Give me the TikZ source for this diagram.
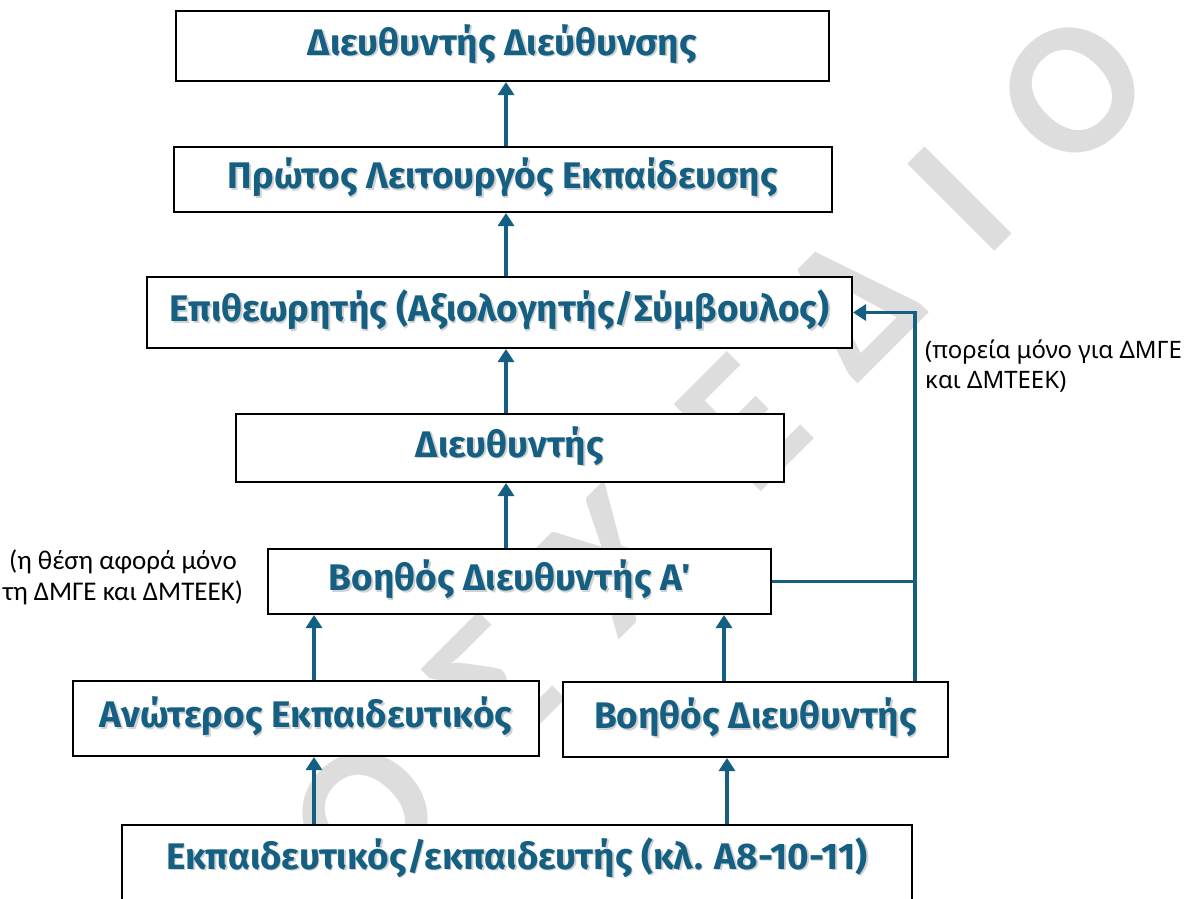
\documentclass[tikz,border=0pt]{standalone}
\usepackage{fontspec}
\usetikzlibrary{arrows.meta}
\newfontfamily\boxfont{Fira Sans}
\newfontfamily\notefont{Carlito}
\newfontfamily\notefontb{Noto Sans}
\newfontfamily\wmfont{Carlito}
\definecolor{tealA}{HTML}{156082}
\definecolor{wmgray}{HTML}{DDDDDD}
\newcommand{\shd}[1]{\rlap{\hspace{1.5pt}\raisebox{-1.8pt}{\textcolor{black!18}{#1}}}#1}
\begin{document}
\begin{tikzpicture}[x=1pt,y=-1pt,
  box/.style={draw=black, line width=2pt, fill=white, inner sep=0pt, text=tealA,
    font=\boxfont\bfseries\fontsize{37}{41}\selectfont, text height=26pt, text depth=8pt},
  arr/.style={draw=tealA, line width=3.5pt, -{Triangle[width=16pt,length=13pt]}},
  link/.style={draw=tealA, line width=3.5pt},
  noteL/.style={inner sep=0pt, align=center, text=black, font=\notefont\fontsize{27}{31}\selectfont},
  noteR/.style={inner sep=0pt, align=left, text=black, font=\notefontb\fontsize{24}{30}\selectfont, anchor=north west},
  wml/.style={text=wmgray, font=\wmfont\bfseries\fontsize{190}{190}\selectfont, rotate=45, inner sep=0pt, anchor=center}
]
\useasboundingbox (0,0) rectangle (1190,898);
\fill[white] (0,0) rectangle (1190,898);

% watermark
\node[wml] (wO1) at (1072,90) {Ο};
\node[wml] (wI) at (960,199) {Ι};
\node[wml] (wD) at (852,303) {Δ};
\node[wml] (wE) at (743,423) {Ε};
\node[wml] (wX) at (612,560) {Χ};
\node[wml] (wS) at (493,684) {Σ};
\node[wml] (wO2) at (365,815) {Ο};

% coordinates for connector x positions
\coordinate (xm) at (506,0);
\coordinate (xl) at (314,0);
\coordinate (xr) at (724,0);
\coordinate (xr2) at (727,0);
\coordinate (xv) at (915,0);

% boxes
\node[box, minimum width=653pt, minimum height=70pt] (b1) at (502.5,46) {\shd{Διευθυντής Διεύθυνσης}};
\node[box, minimum width=658pt, minimum height=65pt] (b2) at (503,179.5) {\shd{Πρώτος Λειτουργός Εκπαίδευσης}};
\node[box, minimum width=705pt, minimum height=71pt] (b3) at (499.5,312.5) {\shd{Επιθεωρητής (Αξιολογητής/Σύμβουλος)}};
\node[box, minimum width=548pt, minimum height=68pt] (b4) at (510,448) {\shd{Διευθυντής}};
\node[box, minimum width=503pt, minimum height=65pt] (b5) at (519.5,581.5) {\shd{Βοηθός Διευθυντής Α΄}\hspace*{20pt}};
\node[box, minimum width=466pt, minimum height=75pt] (b6) at (306,718.5) {\shd{Ανώτερος Εκπαιδευτικός}};
\node[box, minimum width=385pt, minimum height=75pt] (b7) at (755.5,719.5) {\shd{Βοηθός Διευθυντής}};
\node[box, minimum width=790pt, minimum height=90pt] (b8) at (517,870) {\raisebox{10pt}{\shd{Εκπαιδευτικός/εκπαιδευτής (κλ. Α8-10-11)}}};

% connectors
\draw[arr] (b2.north -| xm) -- (b1.south -| xm);
\draw[arr] (b3.north -| xm) -- (b2.south -| xm);
\draw[arr] (b4.north -| xm) -- (b3.south -| xm);
\draw[arr] (b5.north -| xm) -- (b4.south -| xm);
\draw[arr] (b6.north -| xl) -- (b5.south -| xl);
\draw[arr] (b7.north -| xr) -- (b5.south -| xr);
\draw[arr] (b8.north -| xl) -- (b6.south -| xl);
\draw[arr] (b8.north -| xr2) -- (b7.south -| xr2);
\draw[arr] (b7.north -| xv) |- (b3.east);
\draw[link] (b5.east) -- (b5.east -| xv);

% notes
\node[noteL] (n1) at (123,577) {(η θέση αφορά μόνο\\τη ΔΜΓΕ και ΔΜΤΕΕΚ)};
\node[noteR] (n2) at (925,340) {(πορεία μόνο για ΔΜΓΕ\\και ΔΜΤΕΕΚ)};
\end{tikzpicture}
\end{document}
